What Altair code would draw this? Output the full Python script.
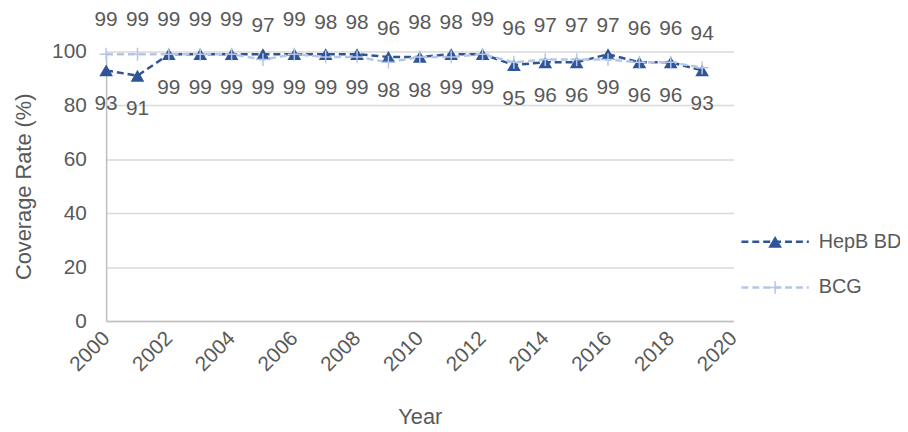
import altair as alt
import pandas as pd

years = list(range(2000, 2020))
hepb = [93, 91, 99, 99, 99, 99, 99, 99, 99, 98, 98, 99, 99, 95, 96, 96, 99, 96, 96, 93]
bcg = [99, 99, 99, 99, 99, 97, 99, 98, 98, 96, 98, 98, 99, 96, 97, 97, 97, 96, 96, 94]
series = ["HepB BD", "BCG"]
colors = ["#2F5597", "#B4C7E7"]

df = pd.DataFrame({
    "Year": years * 2,
    "Value": hepb + bcg,
    "Series": ["HepB BD"] * len(years) + ["BCG"] * len(years),
})

FONT = "Liberation Sans"
GRAY = "#595959"
W, H = 633, 272

xs = alt.Scale(domain=[2000, 2020], nice=False, zero=False)
ys = alt.Scale(domain=[0, 100], nice=False)

x = alt.X("Year:Q", scale=xs, title="Year",
          axis=alt.Axis(values=list(range(2000, 2021, 2)), format="d", labelAngle=-45,
                        labelAlign="right", labelBaseline="middle", labelPadding=14,
                        grid=False, ticks=False, domainColor="#BFBFBF", domainWidth=1.5,
                        labelColor=GRAY, labelFontSize=21, labelFont=FONT,
                        titleColor=GRAY, titleFontSize=22, titleFont=FONT, titleFontWeight="normal",
                        titlePadding=32))
y = alt.Y("Value:Q", scale=ys, title="Coverage Rate (%)",
          axis=alt.Axis(values=[0, 20, 40, 60, 80, 100], grid=True, gridColor="#D9D9D9", gridWidth=1.5,
                        ticks=False, domainColor="#BFBFBF", domainWidth=1.5, labelPadding=20,
                        labelColor=GRAY, labelFontSize=21, labelFont=FONT,
                        titleColor=GRAY, titleFontSize=22, titleFont=FONT, titleFontWeight="normal",
                        titlePadding=16))

base = alt.Chart(df).encode(x=x, y=y)

hep = base.transform_filter(alt.datum.Series == "HepB BD")
bc = base.transform_filter(alt.datum.Series == "BCG")

PLUS = "M-1,0L1,0M0,-1L0,1"

hep_line = hep.mark_line(strokeDash=[7, 4], strokeWidth=2.5, color=colors[0])
hep_pts = hep.mark_point(shape="triangle-up", filled=True, size=190, color=colors[0], opacity=1)
bcg_line = bc.mark_line(strokeDash=[7, 4], strokeWidth=2.5, color=colors[1])
bcg_pts = bc.mark_point(shape=PLUS, filled=False, size=170, strokeWidth=1.5,
                        color=colors[1], opacity=1)

hep_txt = hep.mark_text(dy=34, font=FONT, fontSize=21, color=GRAY).encode(text="Value:Q")
bcg_txt = bc.mark_text(dy=-34, font=FONT, fontSize=21, color=GRAY).encode(text="Value:Q")

# manual legend
lx1, lx2, lm, lt = 641, 709, 675, 719
ly = [192, 238]


def one(s):
    return alt.Chart(df).transform_filter(
        (alt.datum.Year == 2000) & (alt.datum.Series == s))


leg = [
    one("HepB BD").mark_rule(strokeDash=[7, 4], strokeWidth=2.5, color=colors[0]).encode(
        x=alt.value(lx1), x2=alt.value(lx2), y=alt.value(ly[0])),
    one("HepB BD").mark_point(shape="triangle-up", filled=True, size=190, color=colors[0], opacity=1).encode(
        x=alt.value(lm), y=alt.value(ly[0])),
    one("HepB BD").mark_text(align="left", baseline="middle", font=FONT, fontSize=20, color=GRAY).encode(
        x=alt.value(lt), y=alt.value(ly[0]), text="Series:N"),
    one("BCG").mark_rule(strokeDash=[7, 4], strokeWidth=2.5, color=colors[1]).encode(
        x=alt.value(lx1), x2=alt.value(lx2), y=alt.value(ly[1])),
    one("BCG").mark_point(shape=PLUS, filled=False, size=170, strokeWidth=1.5,
                          color=colors[1], opacity=1).encode(
        x=alt.value(lm), y=alt.value(ly[1])),
    one("BCG").mark_text(align="left", baseline="middle", font=FONT, fontSize=20, color=GRAY).encode(
        x=alt.value(lt), y=alt.value(ly[1]), text="Series:N"),
]

chart = alt.layer(hep_line, bcg_line, hep_pts, bcg_pts, hep_txt, bcg_txt, *leg).properties(
    width=W, height=H,
    autosize=alt.AutoSizeParams(type="none"),
    padding={"left": 99, "top": 42, "right": 168, "bottom": 110},
).configure(background="white", view=alt.ViewConfig(stroke=None))

chart.save("out.html", embed_options={"renderer": "svg", "actions": False})
